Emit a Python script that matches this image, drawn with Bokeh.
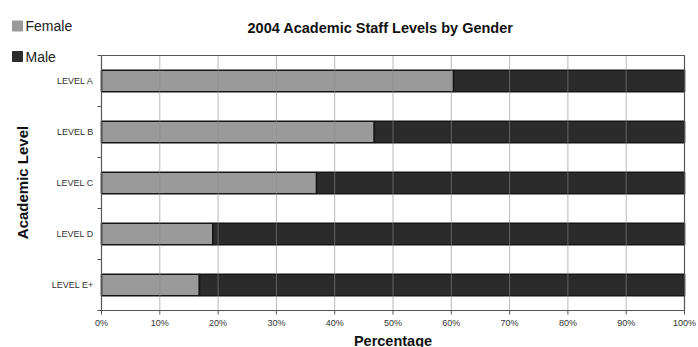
import math
from bokeh.plotting import figure
from bokeh.core.properties import value
from bokeh.embed import file_html
from bokeh.resources import INLINE

levels = ["LEVEL A", "LEVEL B", "LEVEL C", "LEVEL D", "LEVEL E+"]
female = [60.4, 46.8, 36.9, 19.1, 16.8]
male = [39.6, 53.2, 63.1, 80.9, 83.2]
x_ticks = [0, 10, 20, 30, 40, 50, 60, 70, 80, 90, 100]
x_tick_labels = ["0%", "10%", "20%", "30%", "40%", "50%", "60%", "70%", "80%", "90%", "100%"]
series_names = ["Female", "Male"]
series_colors = ["#9a9a9a", "#2b2b2b"]

FONT = "Liberation Sans"
W, H = 698, 347
PLOT_LEFT_PX = 101          # pixel where 0% sits
PLOT_RIGHT_PX = 684         # pixel where 100% sits
PLOT_BOTTOM_PX = 310        # pixel of the x axis line
PX_PER_PCT = (PLOT_RIGHT_PX - PLOT_LEFT_PX) / 100.0
PX_PER_CAT = 51.0
n = len(levels)
ypos = [n - i for i in range(n)]

x0 = -PLOT_LEFT_PX / PX_PER_PCT
x1 = x0 + W / PX_PER_PCT
y1 = 0.5 + PLOT_BOTTOM_PX / PX_PER_CAT
y0 = y1 - H / PX_PER_CAT


def dx(px):
    return x0 + px / PX_PER_PCT


def dy(py):
    return y1 - py / PX_PER_CAT


p = figure(width=W, height=H, output_backend="svg", toolbar_location=None,
           x_range=(x0, x1), y_range=(y0, y1),
           x_axis_location=None, y_axis_location=None,
           min_border_left=0, min_border_right=0, min_border_top=0,
           min_border_bottom=0)

m_left = female
m_right = [f + m for f, m in zip(female, male)]
p.hbar(y=ypos, left=0, right=female, height=0.42, fill_color=series_colors[0],
       line_color="#151515", line_width=1.6)
p.hbar(y=ypos, left=m_left, right=m_right, height=0.42, fill_color=series_colors[1],
       line_color="#151515", line_width=1.6)

# vertical grid lines (over the bars, as in the original)
p.segment(x0=x_ticks, y0=[0.5] * len(x_ticks), x1=x_ticks, y1=[n + 0.5] * len(x_ticks),
          line_color="#8a8a8a", line_alpha=0.6, line_width=1)

# plot-area frame
p.quad(left=[0], right=[100], bottom=[0.5], top=[n + 0.5], fill_color=None,
       line_color="#555555", line_width=1.2)

# category tick marks at boundaries
bounds = [i + 0.5 for i in range(n + 1)]
p.ray(x=[0] * len(bounds), y=bounds, length=4, length_units="screen", angle=math.pi,
      line_color="#555555", line_width=1)

# x tick marks
p.ray(x=x_ticks, y=[0.5] * len(x_ticks), length=4, length_units="screen",
      angle=-math.pi / 2, line_color="#555555", line_width=1)

# x tick labels
p.text(x=x_ticks, y=[0.5] * len(x_ticks), text=x_tick_labels, y_offset=12,
       text_align="center", text_baseline="middle", text_font=value(FONT),
       text_font_size="9px", text_color="#333333")

# category labels
p.text(x=[0] * n, y=ypos, text=levels, x_offset=-8, text_align="right",
       text_baseline="middle", text_font=value(FONT), text_font_size="9px",
       text_color="#333333")

# axis titles
p.text(x=[dx(22)], y=[dy(182)], text=["Academic Level"], angle=math.pi / 2,
       text_align="center", text_baseline="middle", text_font=value(FONT),
       text_font_size="15px", text_font_style="bold", text_color="#111111")
p.text(x=[50], y=[dy(340)], text=["Percentage"],
       text_align="center", text_baseline="middle", text_font=value(FONT),
       text_font_size="14.5px", text_font_style="bold", text_color="#111111")

# chart title
p.text(x=[dx(247)], y=[dy(27)], text=["2004 Academic Staff Levels by Gender"],
       text_align="left", text_baseline="middle", text_font=value(FONT),
       text_font_size="14.5px", text_font_style="bold", text_color="#111111")

# legend
leg_py = [25.5, 56]
p.scatter(x=[dx(17)] * 2, y=[dy(v) for v in leg_py], marker="square", size=10,
          fill_color=series_colors, line_color=series_colors)
p.text(x=[dx(25)] * 2, y=[dy(v) for v in leg_py], text=series_names,
       text_align="left", text_baseline="middle", text_font=value(FONT),
       text_font_size="14px", text_color="#222222")

p.xgrid.grid_line_color = None
p.ygrid.grid_line_color = None
p.outline_line_color = None
p.background_fill_color = "white"
p.border_fill_color = "white"

open("out.html", "w").write(file_html(p, INLINE))
